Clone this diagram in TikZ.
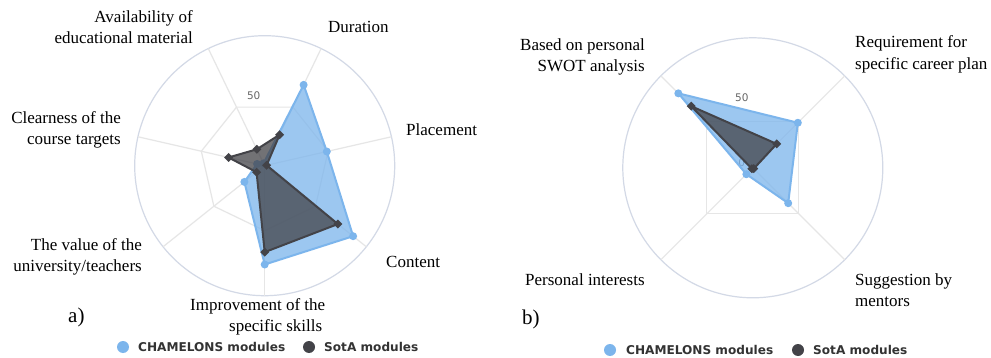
\documentclass[tikz,border=0pt]{standalone}
\usepackage{fontspec}
\setmainfont{Liberation Serif}
\newfontfamily\legfont{DejaVu Sans}
\usetikzlibrary{calc}
\definecolor{chblue}{HTML}{7CB5EC}
\definecolor{sotadark}{HTML}{434348}
\definecolor{gridc}{HTML}{E6E6E6}
\definecolor{axisc}{HTML}{D3D9E6}
\definecolor{txtc}{HTML}{333333}
\definecolor{lblc}{HTML}{666666}
\begin{document}
\begin{tikzpicture}[x=1pt,y=-1pt,
  lab/.style={inner sep=0pt, font=\fontsize{17}{21}\selectfont, text=black},
  panel/.style={inner sep=0pt, font=\fontsize{21}{24}\selectfont, text=black},
  ticklbl/.style={inner sep=0pt, font=\legfont\fontsize{10.5}{12}\selectfont, text=lblc},
  legtxt/.style={inner sep=0pt, anchor=base west, font=\legfont\bfseries\fontsize{12.1}{14}\selectfont, text=txtc},
  gridline/.style={draw=gridc, line width=1.2pt},
  outerline/.style={draw=axisc, line width=1.2pt},
  bluearea/.style={fill=chblue, fill opacity=0.75, draw=chblue, draw opacity=1, line width=2pt, line join=round},
  darkarea/.style={fill=sotadark, fill opacity=0.75, draw=sotadark, draw opacity=1, line width=2pt, line join=round},
]
\useasboundingbox[fill=white] (0,0) rectangle (991,358);

% ---------------- chart a ----------------
\coordinate (ca) at (264.7,165.7);
\draw[outerline] (ca) circle (130pt);
\foreach \ang [count=\i] in {-64.286,-12.857,38.571,90,141.429,192.857,244.286}{
  \coordinate (a-ax\i) at ($(ca)+(\ang:130)$);
  \coordinate (a-g\i) at ($(ca)+(\ang:65)$);
  \draw[gridline] (ca) -- (a-ax\i);
}
\draw[gridline] (a-g1) -- (a-g2) -- (a-g3) -- (a-g4) -- (a-g5) -- (a-g6) -- (a-g7) -- cycle;
\node[ticklbl] (a-t50) at ($(ca)+(-11,-70.5)$) {50};

\foreach \ang/\v [count=\i] in {-64.286/69,-12.857/49,38.571/87,90/76,141.429/20,192.857/6,244.286/2}{
  \pgfmathsetmacro\rr{1.3*\v}
  \coordinate (a-b\i) at ($(ca)+(\ang:\rr)$);
}
\foreach \ang/\v [count=\i] in {-64.286/26.5,-12.857/1.5,38.571/72,90/66.5,141.429/8,192.857/28.5,244.286/14}{
  \pgfmathsetmacro\rr{1.3*\v}
  \coordinate (a-d\i) at ($(ca)+(\ang:\rr)$);
}
\draw[bluearea] (a-b1) -- (a-b2) -- (a-b3) -- (a-b4) -- (a-b5) -- (a-b6) -- (a-b7) -- cycle;
\foreach \i in {1,...,7}{ \fill[chblue] (a-b\i) circle (4pt); }
\draw[darkarea] (a-d1) -- (a-d2) -- (a-d3) -- (a-d4) -- (a-d5) -- (a-d6) -- (a-d7) -- cycle;
\foreach \i in {1,...,7}{ \fill[sotadark, shift={(a-d\i)}] (0,-4.5) -- (4.5,0) -- (0,4.5) -- (-4.5,0) -- cycle; }

\node[lab, anchor=base east] (la1) at (193,23) {Availability of};
\node[lab, anchor=base east] (la2) at (193,44) {educational material};
\node[lab, anchor=base west] (la3) at (328,33) {Duration};
\node[lab, anchor=base west] (la4) at (406,136) {Placement};
\node[lab, anchor=base west] (la5) at (386,268) {Content};
\node[lab, anchor=base west] (la6) at (190,310) {Improvement of the};
\node[lab, anchor=base west] (la7) at (229,331) {specific skills};
\node[lab, anchor=base east] (la8) at (142,251) {The value of the};
\node[lab, anchor=base east] (la9) at (142,272) {university/teachers};
\node[lab, anchor=base east] (la10) at (121,124) {Clearness of the};
\node[lab, anchor=base east] (la11) at (121,145) {course targets};
\node[panel, anchor=base west] (pa) at (68,323) {a)};

\fill[chblue] (123,347) circle (6pt) coordinate (lga1);
\node[legtxt] (lgat1) at (138,351.4) {CHAMELONS modules};
\fill[sotadark] (309,347) circle (6pt) coordinate (lga2);
\node[legtxt] (lgat2) at (324,351.4) {SotA modules};

% ---------------- chart b ----------------
\coordinate (cb) at (752.8,167.8);
\draw[outerline] (cb) circle (130pt);
\foreach \ang [count=\i] in {-45,45,135,225}{
  \coordinate (b-ax\i) at ($(cb)+(\ang:130)$);
  \coordinate (b-g\i) at ($(cb)+(\ang:65)$);
  \draw[gridline] (cb) -- (b-ax\i);
}
\draw[gridline] (b-g1) -- (b-g2) -- (b-g3) -- (b-g4) -- cycle;
\node[ticklbl] (b-t0) at ($(cb)+(-11,-5.5)$) {0};
\node[ticklbl] (b-t50) at ($(cb)+(-11,-70)$) {50};

\foreach \ang/\v [count=\i] in {-45/49,45/38.5,135/7,225/81}{
  \pgfmathsetmacro\rr{1.3*\v}
  \coordinate (b-b\i) at ($(cb)+(\ang:\rr)$);
}
\foreach \ang/\v [count=\i] in {-45/26,45/1,135/1,225/67}{
  \pgfmathsetmacro\rr{1.3*\v}
  \coordinate (b-d\i) at ($(cb)+(\ang:\rr)$);
}
\draw[bluearea] (b-b1) -- (b-b2) -- (b-b3) -- (b-b4) -- cycle;
\foreach \i in {1,...,4}{ \fill[chblue] (b-b\i) circle (4pt); }
\draw[darkarea] (b-d1) -- (b-d2) -- (b-d3) -- (b-d4) -- cycle;
\foreach \i in {1,...,4}{ \fill[sotadark, shift={(b-d\i)}] (0,-4.5) -- (4.5,0) -- (0,4.5) -- (-4.5,0) -- cycle; }

\node[lab, anchor=base east] (lb1) at (645,51) {Based on personal};
\node[lab, anchor=base east] (lb2) at (645,72) {SWOT analysis};
\node[lab, anchor=base west] (lb3) at (855,48) {Requirement for};
\node[lab, anchor=base west] (lb4) at (855,70) {specific career plan};
\node[lab, anchor=base west] (lb5) at (855,285) {Suggestion by};
\node[lab, anchor=base west] (lb6) at (855,306) {mentors};
\node[lab, anchor=base west] (lb7) at (525,285) {Personal interests};
\node[panel, anchor=base west] (pb) at (522,324) {b)};

\fill[chblue] (610,350) circle (6pt) coordinate (lgb1);
\node[legtxt] (lgbt1) at (626,354.4) {CHAMELONS modules};
\fill[sotadark] (798,350) circle (6pt) coordinate (lgb2);
\node[legtxt] (lgbt2) at (813,354.4) {SotA modules};
\end{tikzpicture}
\end{document}
